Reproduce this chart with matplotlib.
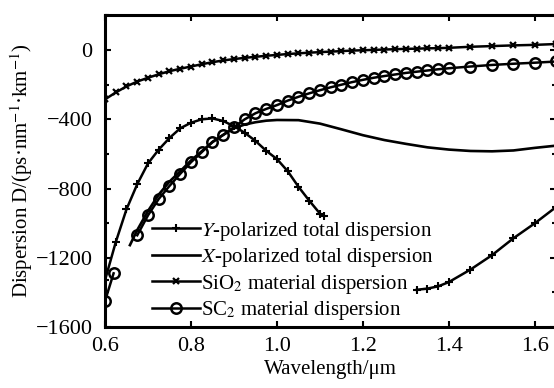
import numpy as np
import matplotlib
matplotlib.use("Agg")
import matplotlib.pyplot as plt
from matplotlib.ticker import MultipleLocator

plt.rcParams['font.family'] = ['Liberation Serif', 'DejaVu Serif']
plt.rcParams['mathtext.fontset'] = 'stix'
plt.rcParams['font.size'] = 15

# Y-polarized total dispersion (nan = break in the curve)
y_pol_wl = [0.600, 0.625, 0.650, 0.675, 0.700, 0.725, 0.750, 0.775, 0.800, 0.825,
            0.850, 0.875, 0.900, 0.925, 0.950, 0.975, 1.000, 1.025, 1.050, 1.075,
            1.100, 1.110, 1.200,
            1.325, 1.350, 1.375, 1.400, 1.450, 1.500, 1.550, 1.600, 1.650]
y_pol_d = [-1330, -1110, -920, -775, -655, -575, -508, -452, -420, -400,
           -395, -410, -440, -478, -525, -582, -630, -700, -790, -870,
           -945, -960, np.nan,
           -1385, -1378, -1365, -1340, -1268, -1185, -1087, -1000, -905]

# X-polarized total dispersion
x_pol_wl = [0.658, 0.675, 0.700, 0.725, 0.750, 0.775, 0.800, 0.825, 0.850, 0.875,
            0.900, 0.925, 0.950, 0.975, 1.000, 1.050, 1.100, 1.150, 1.200, 1.250,
            1.300, 1.350, 1.400, 1.450, 1.500, 1.550, 1.600, 1.650]
x_pol_d = [-1127, -1040, -930, -835, -760, -700, -638, -585, -532, -490,
           -452, -430, -417, -408, -404, -405, -425, -458, -492, -520,
           -542, -562, -575, -583, -585, -580, -565, -552]

# SiO2 material dispersion
sio2_wl = [0.600, 0.625, 0.650, 0.675, 0.700, 0.725, 0.750, 0.775, 0.800, 0.825,
           0.850, 0.875, 0.900, 0.925, 0.950, 0.975, 1.000, 1.025, 1.050, 1.075,
           1.100, 1.125, 1.150, 1.175, 1.200, 1.225, 1.250, 1.275, 1.300, 1.325,
           1.350, 1.375, 1.400, 1.450, 1.500, 1.550, 1.600, 1.650]
sio2_d = [-285, -245, -210, -182, -160, -140, -122, -108, -95, -82,
          -70, -60, -52, -45, -39, -33, -28, -23, -19, -15,
          -12, -9, -6, -3, -1, 1, 3, 5, 7, 8,
          10, 11, 13, 19, 23, 27, 30, 35]

# SC2 material dispersion
sc2_wl = [0.600, 0.620, 0.650, 0.675, 0.700, 0.725, 0.750, 0.775, 0.800, 0.825,
          0.850, 0.875, 0.900, 0.925, 0.950, 0.975, 1.000, 1.025, 1.050, 1.075,
          1.100, 1.125, 1.150, 1.175, 1.200, 1.225, 1.250, 1.275, 1.300, 1.325,
          1.350, 1.375, 1.400, 1.450, 1.500, 1.550, 1.600, 1.650]
sc2_d = [-1450, -1290, np.nan, -1070, -955, -860, -785, -715, -648, -590,
         -530, -490, -445, -400, -365, -340, -318, -292, -270, -250,
         -232, -215, -200, -185, -172, -160, -150, -141, -132, -125,
         -118, -111, -105, -95, -86, -79, -73, -66]

fig = plt.figure(figsize=(5.54, 3.88), dpi=100)
ax = fig.add_axes([0.1895, 0.1572, 0.815, 0.803])

ax.plot(y_pol_wl, y_pol_d, color='black', lw=1.8, marker='+', ms=5.5, mew=1.5,
        label='$Y$-polarized total dispersion')
ax.plot(x_pol_wl, x_pol_d, color='black', lw=1.9,
        label='$X$-polarized total dispersion')
ax.plot(sio2_wl, sio2_d, color='black', lw=1.8, marker='x', ms=4.5, mew=1.6,
        label='SiO$_2$ material dispersion')
ax.plot(sc2_wl, sc2_d, color='black', lw=1.8, marker='o', ms=7.5, mfc='none',
        mec='black', mew=1.8, label='SC$_2$ material dispersion')

ax.set_xlim(0.6, 1.65)
ax.set_ylim(-1600, 200)
ax.xaxis.set_major_locator(MultipleLocator(0.2))
ax.yaxis.set_major_locator(MultipleLocator(400))
ax.yaxis.set_minor_locator(MultipleLocator(200))
ax.xaxis.set_major_formatter(plt.FuncFormatter(lambda v, p: f'{v:.1f}'))
ax.tick_params(which='both', direction='in', top=True, right=True, width=1.5,
               labelsize=16)
ax.tick_params(which='major', length=4)
ax.tick_params(which='minor', length=3)
ax.tick_params(axis='y', pad=9)
ax.tick_params(axis='x', pad=7)
for s in ax.spines.values():
    s.set_linewidth(2.2)

ax.set_xlabel('Wavelength/μm', labelpad=3)
ax.set_ylabel('Dispersion D/(ps·nm$^{-1}$·km$^{-1}$)', labelpad=0)

ax.legend(loc='upper left', bbox_to_anchor=(0.105, 0.345), frameon=False,
          handlelength=2.3, handletextpad=0.05, labelspacing=0.17,
          borderpad=0, borderaxespad=0, numpoints=1, fontsize=15)

fig.savefig('out.png', dpi=100)
